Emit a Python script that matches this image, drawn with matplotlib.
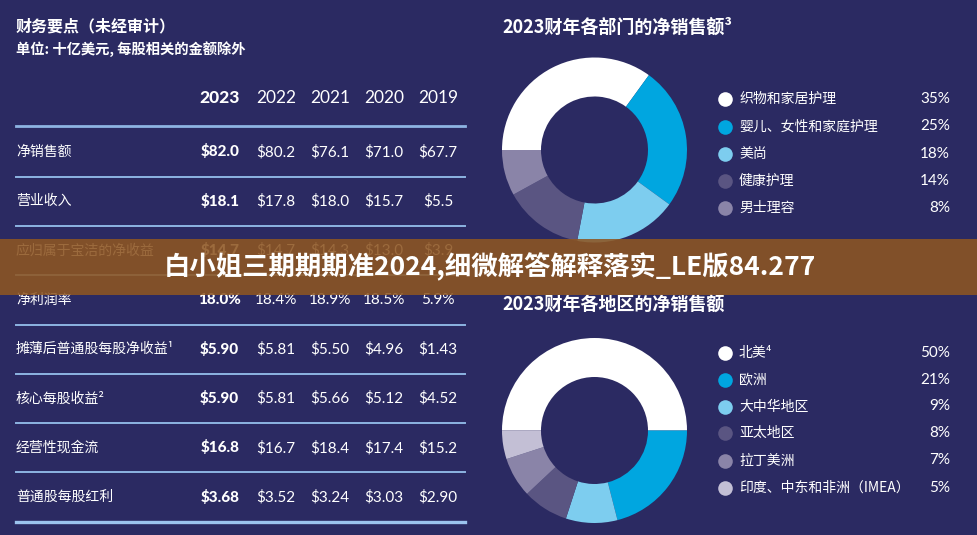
import matplotlib
matplotlib.use('Agg')
import matplotlib.pyplot as plt
from matplotlib.patches import Rectangle

# table data (billions USD unless per share)
years = ['2023', '2022', '2021', '2020', '2019']
row_labels = ['净销售额', '营业收入', '应归属于宝洁的净收益', '净利润率',
              '摊薄后普通股每股净收益¹', '核心每股收益²', '经营性现金流', '普通股每股红利']
net_sales = [82.0, 80.2, 76.1, 71.0, 67.7]
operating_income = [18.1, 17.8, 18.0, 15.7, 5.5]
net_earnings = [14.7, 14.7, 14.3, 13.0, 3.9]
net_margin = [18.0, 18.4, 18.9, 18.5, 5.9]
diluted_eps = [5.90, 5.81, 5.50, 4.96, 1.43]
core_eps = [5.90, 5.81, 5.66, 5.12, 4.52]
operating_cash = [16.8, 16.7, 18.4, 17.4, 15.2]
dividends = [3.68, 3.52, 3.24, 3.03, 2.90]

# donut data
segment_labels = ['织物和家居护理', '婴儿、女性和家庭护理', '美尚', '健康护理', '男士理容']
segment_share = [35, 25, 18, 14, 8]
region_labels = ['北美⁴', '欧洲', '大中华地区', '亚太地区', '拉丁美洲', '印度、中东和非洲（IMEA）']
region_share = [50, 21, 9, 8, 7, 5]

BG = '#2b2a62'
LINE = '#8db4e2'
seg_colors = ['#ffffff', '#00a6e0', '#7dcdef', '#5a5582', '#8a84a8']
reg_colors = ['#ffffff', '#00a6e0', '#7dcdef', '#5a5582', '#8a84a8', '#c3bfd5']
CJK = ['Noto Sans CJK SC', 'DejaVu Sans']
NUM = ['Lato', 'DejaVu Sans']

W, H = 977, 535
fig = plt.figure(figsize=(W / 100, H / 100), dpi=100, facecolor=BG)
ax = fig.add_axes([0, 0, 1, 1])
ax.set_xlim(0, W)
ax.set_ylim(H, 0)
ax.axis('off')
ax.set_facecolor(BG)

# ---- left table ----
ax.text(16, 26, '财务要点（未经审计）', family=CJK, fontsize=11.5, weight='bold', color='white', va='center')
ax.text(16, 49, '单位: 十亿美元, 每股相关的金额除外', family=CJK, fontsize=10.3, weight='bold', color='white', va='center')

col_x = [219.7, 276, 330, 384, 438]
for i, yr in enumerate(years):
    ax.text(col_x[i], 97.7, yr, family=NUM, fontsize=12.5, color='white', ha='center', va='center',
            weight='black' if i == 0 else 'normal')

rows = [(net_sales, '${:.1f}'), (operating_income, '${:.1f}'), (net_earnings, '${:.1f}'),
        (net_margin, '{:.1f}%'), (diluted_eps, '${:.2f}'), (core_eps, '${:.2f}'),
        (operating_cash, '${:.1f}'), (dividends, '${:.2f}')]
row_y0, step = 152, 49.3
ax.plot([16, 465], [126, 126], color=LINE, lw=2)
for r, (vals, fmt) in enumerate(rows):
    y = row_y0 + r * step
    ax.text(16, y, row_labels[r], family=CJK, fontsize=10, color='white', va='center')
    for i, v in enumerate(vals):
        ax.text(col_x[i], y, fmt.format(v), family=NUM, fontsize=11, color='white', ha='center', va='center',
                weight='black' if i == 0 else 'normal')
    last = r == len(rows) - 1
    ly = y + step / 2 if not last else 522
    ax.plot([16, 465], [ly, ly], color='#9cc3ee' if last else LINE, lw=2.4 if last else 1.4)


# ---- donuts ----
def donut(cx, cy, shares, colors):
    r_out, r_in = 92.5, 53.5
    pa = fig.add_axes([(cx - r_out) / W, 1 - (cy + r_out) / H, 2 * r_out / W, 2 * r_out / H])
    pa.pie(shares, colors=colors, startangle=180, counterclock=False, radius=1,
           wedgeprops=dict(width=(r_out - r_in) / r_out, linewidth=0))
    pa.set_xlim(-1, 1)
    pa.set_ylim(-1, 1)
    pa.axis('off')


def legend(ys, labels, shares, colors):
    for y, lab, s, c in zip(ys, labels, shares, colors):
        ax.plot(725, y, 'o', ms=10.5, color=c, mec='none')
        ax.text(739, y, lab, family=CJK, fontsize=10, color='white', va='center')
        ax.text(950, y, f'{s}%', family=NUM, fontsize=11, color='white', ha='right', va='center')


ax.text(502, 27, '2023财年各部门的净销售额³', family=CJK, fontsize=13, weight='bold', color='white', va='center')
donut(594.5, 150, segment_share, seg_colors)
legend([99, 126.5, 154, 181, 207.5], segment_labels, segment_share, seg_colors)

ax.text(502, 305, '2023财年各地区的净销售额', family=CJK, fontsize=13, weight='bold', color='white', va='center')
donut(594.5, 430.5, region_share, reg_colors)
legend([353, 379.5, 406.5, 433, 460.5, 488], region_labels, region_share, reg_colors)

# ---- overlay banner ----
fig.add_artist(Rectangle((0, 1 - 295 / H), 1, 56 / H, transform=fig.transFigure,
                         facecolor='#8e5622', alpha=0.88, edgecolor='none', zorder=5))
fig.text(490 / W, 1 - 267 / H, '白小姐三期期期准2024,细微解答解释落实_LE版84.277', family=CJK,
         fontsize=19, weight='bold', color='white', ha='center', va='center', zorder=6)

fig.savefig('out.png', dpi=100, facecolor=BG)
